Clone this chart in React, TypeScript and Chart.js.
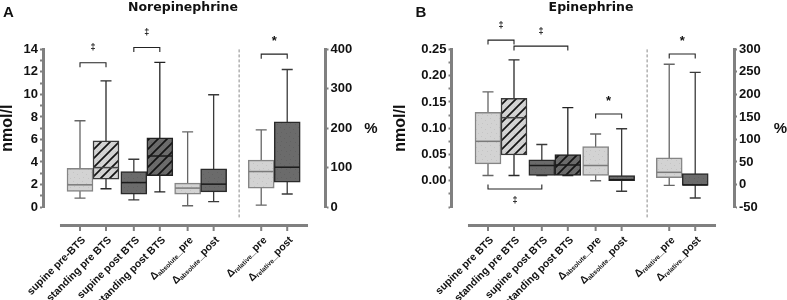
import React, { useEffect, useRef } from 'react';
import { Chart, registerables } from 'chart.js';

Chart.register(...registerables);

const FONT = "'Liberation Sans', Arial, Helvetica, sans-serif";
const TITLE_FONT = "'DejaVu Sans', 'Liberation Sans', Arial, sans-serif";

// ---------- categories ----------
const labelsA = ['supine pre-BTS', 'standing pre BTS', 'supine post BTS', 'standing post BTS', 'Δ{absolute}_pre', 'Δ{absolute}_post', 'Δ{relative}_pre', 'Δ{relative}_post'];
const labelsB = ['supine pre BTS', 'standing pre BTS', 'supine post BTS', 'standing post BTS', 'Δ{absolute}_pre', 'Δ{absolute}_post', 'Δ{relative}_pre', 'Δ{relative}_post'];

// ---------- Panel A: Norepinephrine (nmol/l, left axis) ----------
const neMin = [0.79, 1.62, 0.64, 1.35, 0.11, 0.47];
const neQ1 = [1.38, 2.47, 1.15, 2.79, 1.15, 1.35];
const neMedian = [1.97, 3.5, 2.17, 4.53, 1.68, 2.03];
const neQ3 = [3.44, 5.88, 3.14, 6.14, 2.12, 3.38];
const neMax = [7.66, 11.21, 4.24, 12.85, 6.67, 9.97];
// relative change (%), right axis
const neRelMin = [5, 33];
const neRelQ1 = [47.5, 63];
const neRelMedian = [90, 101];
const neRelQ3 = [119, 216];
const neRelMax = [196, 349];

// ---------- Panel B: Epinephrine ----------
const epMin = [0.01, 0.01, 0.01, 0.01, 0.0, -0.02];
const epQ1 = [0.032, 0.049, 0.01, 0.01, 0.01, 0.0];
const epMedian = [0.075, 0.12, 0.029, 0.03, 0.029, 0.002];
const epQ3 = [0.13, 0.157, 0.04, 0.05, 0.065, 0.01];
const epMax = [0.169, 0.23, 0.069, 0.139, 0.089, 0.099];
const epRelMin = [-2, -30];
const epRelQ1 = [15, -2];
const epRelMedian = [27, -1];
const epRelQ3 = [59, 24];
const epRelMax = [267, 249];

// ---------- significance brackets ----------
const bracketsA = [
  { from: 0, to: 1, value: 12.82, axis: 'y', mark: '‡', below: false },
  { from: 2, to: 3, value: 14.17, axis: 'y', mark: '‡', below: false },
  { from: 6, to: 7, value: 388, axis: 'y2', mark: '*', below: false },
];
const bracketsB = [
  { from: 0, to: 1, value: 0.2677, axis: 'y', mark: '‡', below: false },
  { from: 1, to: 3, value: 0.2563, axis: 'y', mark: '‡', below: false },
  { from: 0, to: 2, value: -0.0158, axis: 'y', mark: '‡', below: true },
  { from: 4, to: 5, value: 0.1269, axis: 'y', mark: '*', below: false },
  { from: 6, to: 7, value: 289.7, axis: 'y2', mark: '*', below: false },
];

// ---------- layout (slot positions on the x scale) ----------
const slotPositions = [0, 1, 2.07, 3.07, 4.14, 5.14, 6.97, 7.97];
const dividerSlot = 6.12;
const axisStartSlot = -0.77;
const axisEndSlot = 8.77;
const boxKinds = ['light', 'lightHatch', 'dark', 'darkHatch', 'light', 'dark', 'light', 'dark'];

const kindStyle: Record<string, { border: string; whisker: string; median: string }> = {
  light: { border: '#858585', whisker: '#666666', median: '#7a7a7a' },
  lightHatch: { border: '#3a3a3a', whisker: '#2a2a2a', median: '#444444' },
  dark: { border: '#2a2a2a', whisker: '#3a3a3a', median: '#1a1a1a' },
  darkHatch: { border: '#222222', whisker: '#222222', median: '#1a1a1a' },
};

function makePattern(kind: string): CanvasPattern | string {
  const s = 9;
  const c = document.createElement('canvas');
  c.width = s;
  c.height = s;
  const g = c.getContext('2d');
  if (!g) return '#ccc';
  const dark = kind.startsWith('dark');
  g.fillStyle = dark ? '#6b6b6b' : '#d3d3d3';
  g.fillRect(0, 0, s, s);
  g.fillStyle = dark ? '#626262' : '#c4c4c4';
  for (const [x, y] of [[1, 1], [5, 3], [2, 6], [7, 7]]) g.fillRect(x, y, 1, 1);
  if (kind.endsWith('Hatch')) {
    g.strokeStyle = '#141414';
    g.lineWidth = 1.7;
    g.beginPath();
    for (const k of [-1, 0, 1]) {
      g.moveTo(k * s - 1, s + 1);
      g.lineTo(k * s + s + 1, -1);
    }
    g.stroke();
  }
  const ctx = document.createElement('canvas').getContext('2d');
  const p = ctx ? ctx.createPattern(c, 'repeat') : null;
  return p || '#ccc';
}

type Bracket = { from: number; to: number; value: number; axis: string; mark: string; below: boolean };
type PanelCfg = {
  letter: string;
  title: string;
  labels: string[];
  min: number[]; q1: number[]; med: number[]; q3: number[]; max: number[];
  rMin: number[]; rQ1: number[]; rMed: number[]; rQ3: number[]; rMax: number[];
  yMin: number; yMax: number; yStep: number; yLabel: (v: number) => string;
  rAxisMin: number; rAxisMax: number; rStep: number;
  brackets: Bracket[];
  // geometry inside the canvas
  canvasLeft: number; width: number; origin: number; leftEdge: number; rightEdge: number;
  letterX: number; yTitleX: number; unitX: number;
};

const panelA: PanelCfg = {
  letter: 'A', title: 'Norepinephrine', labels: labelsA,
  min: neMin, q1: neQ1, med: neMedian, q3: neQ3, max: neMax,
  rMin: neRelMin, rQ1: neRelQ1, rMed: neRelMedian, rQ3: neRelQ3, rMax: neRelMax,
  yMin: 0, yMax: 14, yStep: 1,
  yLabel: (v) => (Math.round(v) % 2 === 0 ? String(Math.round(v)) : ''),
  rAxisMin: 0, rAxisMax: 400, rStep: 100,
  brackets: bracketsA,
  canvasLeft: 0, width: 390, origin: 80, leftEdge: 43, rightEdge: 325.5,
  letterX: 3, yTitleX: 8, unitX: 371,
};

const panelB: PanelCfg = {
  letter: 'B', title: 'Epinephrine', labels: labelsB,
  min: epMin, q1: epQ1, med: epMedian, q3: epQ3, max: epMax,
  rMin: epRelMin, rQ1: epRelQ1, rMed: epRelMedian, rQ3: epRelQ3, rMax: epRelMax,
  yMin: -0.05, yMax: 0.25, yStep: 0.025,
  yLabel: (v) => (v > -1e-9 && Math.abs(v / 0.05 - Math.round(v / 0.05)) < 1e-6 ? (Math.abs(v) < 1e-9 ? 0 : v).toFixed(2) : ''),
  rAxisMin: -50, rAxisMax: 300, rStep: 50,
  brackets: bracketsB,
  canvasLeft: 390, width: 397, origin: 98, leftEdge: 61.5, rightEdge: 344,
  letterX: 25.5, yTitleX: 10.5, unitX: 390.5,
};

function parseLabel(s: string) {
  const parts: { t: string; sub: boolean }[] = [];
  const re = /\{([^}]*)\}/g;
  let last = 0;
  let m: RegExpExecArray | null;
  while ((m = re.exec(s))) {
    if (m.index > last) parts.push({ t: s.slice(last, m.index), sub: false });
    parts.push({ t: m[1], sub: true });
    last = m.index + m[0].length;
  }
  if (last < s.length) parts.push({ t: s.slice(last), sub: false });
  return parts;
}

function extrasPlugin(p: PanelCfg) {
  return {
    id: 'boxExtras',
    beforeDatasetsDraw(chart: any) {
      const ctx = chart.ctx as CanvasRenderingContext2D;
      ctx.save();
      chart.data.datasets.forEach((ds: any, di: number) => {
        const meta = chart.getDatasetMeta(di);
        const ys = chart.scales[ds.yAxisID];
        meta.data.forEach((bar: any, i: number) => {
          const st = ds.stats[i];
          const kind = ds.kinds[i];
          const x = bar.x;
          const yMax = ys.getPixelForValue(st.max);
          const yMin = ys.getPixelForValue(st.min);
          ctx.strokeStyle = kindStyle[kind].whisker;
          ctx.lineWidth = 1.3;
          ctx.beginPath();
          ctx.moveTo(x, yMax);
          ctx.lineTo(x, yMin);
          ctx.moveTo(x - 5.5, yMax);
          ctx.lineTo(x + 5.5, yMax);
          ctx.moveTo(x - 5.5, yMin);
          ctx.lineTo(x + 5.5, yMin);
          ctx.stroke();
        });
      });
      ctx.restore();
    },
    afterDatasetsDraw(chart: any) {
      const ctx = chart.ctx as CanvasRenderingContext2D;
      ctx.save();
      chart.data.datasets.forEach((ds: any, di: number) => {
        const meta = chart.getDatasetMeta(di);
        const ys = chart.scales[ds.yAxisID];
        meta.data.forEach((bar: any, i: number) => {
          const st = ds.stats[i];
          const kind = ds.kinds[i];
          const y = ys.getPixelForValue(st.med);
          ctx.strokeStyle = kindStyle[kind].median;
          ctx.lineWidth = 1.5;
          ctx.beginPath();
          ctx.moveTo(bar.x - bar.width / 2 + 0.5, y);
          ctx.lineTo(bar.x + bar.width / 2 - 0.5, y);
          ctx.stroke();
        });
      });
      ctx.restore();
    },
    afterDraw(chart: any) {
      const ctx = chart.ctx as CanvasRenderingContext2D;
      const xs = chart.scales.x;
      const area = chart.chartArea;
      ctx.save();

      // x axis (detached)
      const axisY = area.bottom + 18.5;
      ctx.strokeStyle = '#808080';
      ctx.lineWidth = 3;
      ctx.beginPath();
      ctx.moveTo(xs.getPixelForValue(axisStartSlot), axisY);
      ctx.lineTo(xs.getPixelForValue(axisEndSlot), axisY);
      ctx.stroke();
      ctx.lineWidth = 2;
      ctx.beginPath();
      slotPositions.forEach((s) => {
        const px = xs.getPixelForValue(s);
        ctx.moveTo(px, axisY + 1.5);
        ctx.lineTo(px, axisY + 5.5);
      });
      ctx.stroke();

      // rotated category labels
      const mainFont = `bold 10.5px ${FONT}`;
      const subFont = `bold 6.5px ${FONT}`;
      ctx.fillStyle = '#111';
      p.labels.forEach((lab, i) => {
        const px = xs.getPixelForValue(slotPositions[i]);
        const parts = parseLabel(lab);
        let total = 0;
        const widths = parts.map((pt) => {
          ctx.font = pt.sub ? subFont : mainFont;
          const w = ctx.measureText(pt.t).width;
          total += w;
          return w;
        });
        ctx.save();
        ctx.translate(px + 4, axisY + 13);
        ctx.rotate(-Math.PI / 4);
        ctx.textAlign = 'left';
        ctx.textBaseline = 'middle';
        let x = -total;
        parts.forEach((pt, k) => {
          ctx.font = pt.sub ? subFont : mainFont;
          ctx.fillText(pt.t, x, pt.sub ? 2.5 : 0);
          x += widths[k];
        });
        ctx.restore();
      });

      // dashed divider
      const dx = xs.getPixelForValue(dividerSlot);
      ctx.strokeStyle = '#8a8a8a';
      ctx.lineWidth = 1;
      ctx.setLineDash([3, 2]);
      ctx.beginPath();
      ctx.moveTo(dx, area.top);
      ctx.lineTo(dx, axisY - 7.5);
      ctx.stroke();
      ctx.setLineDash([]);

      // significance brackets
      ctx.strokeStyle = '#222';
      ctx.lineWidth = 1.1;
      ctx.fillStyle = '#111';
      p.brackets.forEach((b) => {
        const ys = chart.scales[b.axis];
        const x1 = xs.getPixelForValue(slotPositions[b.from]);
        const x2 = xs.getPixelForValue(slotPositions[b.to]);
        const y = ys.getPixelForValue(b.value);
        const dir = b.below ? -1 : 1;
        ctx.beginPath();
        ctx.moveTo(x1, y + dir * 4.5);
        ctx.lineTo(x1, y);
        ctx.lineTo(x2, y);
        ctx.lineTo(x2, y + dir * 4.5);
        ctx.stroke();
        ctx.font = b.mark === '*' ? `bold 13px ${FONT}` : `bold 9px ${FONT}`;
        ctx.textAlign = 'center';
        ctx.textBaseline = 'alphabetic';
        const m = ctx.measureText(b.mark);
        const cy = b.below ? y + 11 : y - 15.5;
        const base = cy + (m.actualBoundingBoxAscent - m.actualBoundingBoxDescent) / 2;
        ctx.fillText(b.mark, (x1 + x2) / 2, base);
      });

      // panel letter and title
      ctx.textAlign = 'left';
      ctx.textBaseline = 'alphabetic';
      ctx.font = `bold 15px ${FONT}`;
      ctx.fillText(p.letter, p.letterX, 17);
      ctx.textAlign = 'center';
      ctx.font = `bold 12.5px ${TITLE_FONT}`;
      ctx.fillText(p.title, (xs.getPixelForValue(axisStartSlot) + xs.getPixelForValue(axisEndSlot)) / 2 - 1, 10.5);

      // axis titles
      const midY = (area.top + area.bottom) / 2;
      ctx.font = `bold 16px ${FONT}`;
      ctx.textBaseline = 'middle';
      ctx.save();
      ctx.translate(p.yTitleX, midY);
      ctx.rotate(-Math.PI / 2);
      ctx.fillText('nmol/l', 0, 0);
      ctx.restore();
      ctx.font = `bold 15px ${FONT}`;
      ctx.fillText('%', p.unitX, midY + 1);
      ctx.restore();
    },
  };
}

function buildConfig(p: PanelCfg): any {
  const absData = p.q1.map((q, i) => ({ x: slotPositions[i], y: [q, p.q3[i]] }));
  const relData = p.rQ1.map((q, i) => ({ x: slotPositions[6 + i], y: [q, p.rQ3[i]] }));
  const absKinds = boxKinds.slice(0, 6);
  const relKinds = boxKinds.slice(6);
  const tickFont = { family: FONT, weight: 'bold' as const, size: 13 };
  const unit = 26;
  return {
    type: 'bar',
    data: {
      datasets: [
        {
          label: 'absolute',
          data: absData,
          yAxisID: 'y',
          kinds: absKinds,
          stats: p.min.map((mn, i) => ({ min: mn, med: p.med[i], max: p.max[i] })),
          backgroundColor: absKinds.map(makePattern),
          borderColor: absKinds.map((k) => kindStyle[k].border),
          borderWidth: 1.5,
          borderSkipped: false,
          grouped: false,
          barThickness: 26,
        },
        {
          label: 'relative',
          data: relData,
          yAxisID: 'y2',
          kinds: relKinds,
          stats: p.rMin.map((mn, i) => ({ min: mn, med: p.rMed[i], max: p.rMax[i] })),
          backgroundColor: relKinds.map(makePattern),
          borderColor: relKinds.map((k) => kindStyle[k].border),
          borderWidth: 1.5,
          borderSkipped: false,
          grouped: false,
          barThickness: 26,
        },
      ],
    },
    options: {
      responsive: false,
      animation: false,
      devicePixelRatio: 1,
      layout: { padding: { top: 49.4, bottom: 93, left: 0, right: 0 } },
      plugins: { legend: { display: false }, tooltip: { enabled: false }, title: { display: false } },
      scales: {
        x: {
          type: 'linear',
          display: false,
          offset: false,
          min: (p.leftEdge - p.origin) / unit,
          max: (p.rightEdge - p.origin) / unit,
        },
        y: {
          type: 'linear',
          position: 'left',
          min: p.yMin,
          max: p.yMax,
          afterFit: (s: any) => { s.width = p.leftEdge; },
          border: { display: true, color: '#808080', width: 3 },
          grid: { display: true, drawOnChartArea: false, drawTicks: true, tickLength: 3, color: '#808080', tickWidth: 2 },
          ticks: { stepSize: p.yStep, autoSkip: false, padding: 2, color: '#111', font: tickFont, callback: (v: any) => p.yLabel(Number(v)) },
        },
        y2: {
          type: 'linear',
          position: 'right',
          min: p.rAxisMin,
          max: p.rAxisMax,
          afterFit: (s: any) => { s.width = p.width - p.rightEdge; },
          border: { display: true, color: '#808080', width: 3 },
          grid: { display: true, drawOnChartArea: false, drawTicks: true, tickLength: 3, color: '#808080', tickWidth: 2 },
          ticks: { stepSize: p.rStep, autoSkip: false, padding: 2, color: '#111', font: tickFont, callback: (v: any) => String(v) },
        },
      },
    },
    plugins: [extrasPlugin(p)],
  };
}

function Panel({ cfg }: { cfg: PanelCfg }) {
  const ref = useRef<HTMLCanvasElement>(null);
  useEffect(() => {
    if (!ref.current) return;
    const chart = new Chart(ref.current, buildConfig(cfg));
    return () => chart.destroy();
  }, [cfg]);
  return (
    <canvas
      ref={ref}
      width={cfg.width}
      height={300}
      style={{ position: 'absolute', left: cfg.canvasLeft, top: 0, width: cfg.width, height: 300, display: 'block' }}
    />
  );
}

export default function App() {
  return (
    <div style={{ position: 'absolute', left: 0, top: 0, width: 787, height: 300, background: '#ffffff', overflow: 'hidden' }}>
      <Panel cfg={panelA} />
      <Panel cfg={panelB} />
    </div>
  );
}
